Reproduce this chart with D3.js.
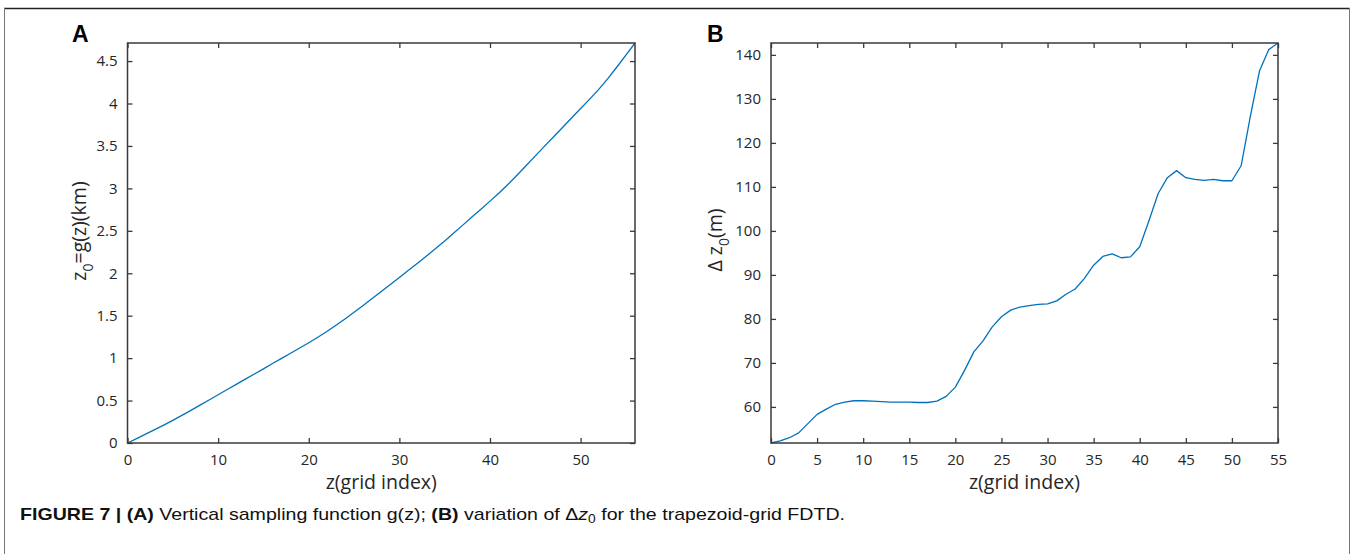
<!DOCTYPE html>
<html>
<head>
<meta charset="utf-8">
<script src="https://cdn.jsdelivr.net/npm/d3@7"></script>
<style>
  html, body { margin: 0; padding: 0; background: #fff; }
  svg { display: block; }
</style>
</head>
<body>
<svg id="fig" width="1355" height="554"></svg>
<script>
// Grid index for the height profile (0..56) and for the spacing profile (0..55)
const gridIndexA = d3.range(0, 57);
const gridIndexB = d3.range(0, 56);

// Panel A: vertical sampling function g(z), km
const heightKm = [
  0.000, 0.052, 0.104, 0.157, 0.211, 0.267, 0.326, 0.385, 0.446, 0.507,
  0.568, 0.630, 0.691, 0.752, 0.813, 0.874, 0.936, 0.997, 1.058, 1.119,
  1.181, 1.246, 1.314, 1.387, 1.462, 1.540, 1.620, 1.702, 1.785, 1.868,
  1.951, 2.035, 2.119, 2.204, 2.291, 2.380, 2.473, 2.567, 2.662, 2.755,
  2.850, 2.946, 3.048, 3.157, 3.269, 3.383, 3.495, 3.606, 3.718, 3.830,
  3.941, 4.052, 4.167, 4.293, 4.430, 4.571, 4.713
];

// Panel B: vertical grid spacing Δz0, m
const spacingM = [
  51.8, 52.3, 53.0, 54.1, 56.2, 58.3, 59.5, 60.6, 61.1, 61.4,
  61.4, 61.3, 61.2, 61.1, 61.1, 61.1, 61.0, 61.0, 61.3, 62.4,
  64.5, 68.3, 72.5, 75.0, 78.2, 80.5, 82.0, 82.7, 83.0, 83.3,
  83.4, 84.1, 85.6, 86.8, 89.2, 92.2, 94.2, 94.8, 93.9, 94.1,
  96.4, 102.3, 108.5, 112.1, 113.7, 112.1, 111.7, 111.5, 111.7, 111.4,
  111.4, 114.8, 126.0, 136.4, 141.2, 142.7
];

// Tick values
const ticksAX = [0, 10, 20, 30, 40, 50];
const ticksAY = [0, 0.5, 1, 1.5, 2, 2.5, 3, 3.5, 4, 4.5];
const ticksBX = [0, 5, 10, 15, 20, 25, 30, 35, 40, 45, 50, 55];
const ticksBY = [60, 70, 80, 90, 100, 110, 120, 130, 140];

const svg = d3.select("#fig");
const axisColor = "#3a3a3a";
const textColor = "#262626";
const lineColor = "#0072BD";
const labelFont = "'Open Sans', 'Noto Sans', sans-serif";
const plainFmt = d3.format("");

// Figure frame
svg.append("line").attr("x1", 4).attr("x2", 1349.5).attr("y1", 8.5).attr("y2", 8.5)
  .attr("stroke", "#222").attr("stroke-width", 1.6);
svg.append("line").attr("x1", 4.5).attr("x2", 4.5).attr("y1", 8).attr("y2", 554)
  .attr("stroke", "#777").attr("stroke-width", 1);
svg.append("line").attr("x1", 1349.5).attr("x2", 1349.5).attr("y1", 8).attr("y2", 554)
  .attr("stroke", "#777").attr("stroke-width", 1);

function drawPanel(opts) {
  const { left, right, top, bottom, xs, ys, xDomain, yDomain, xTicks, yTicks } = opts;
  const x = d3.scaleLinear().domain(xDomain).range([left, right]);
  const y = d3.scaleLinear().domain(yDomain).range([bottom, top]);
  const g = svg.append("g");

  // Line
  g.append("path")
    .datum(xs.map((v, i) => [v, ys[i]]))
    .attr("fill", "none")
    .attr("stroke", lineColor)
    .attr("stroke-width", 1.3)
    .attr("stroke-linejoin", "round")
    .attr("d", d3.line().x(d => x(d[0])).y(d => y(d[1])));

  const tl = 5;
  // Bottom axis with labels, ticks pointing inward
  const ax = g.append("g").attr("transform", `translate(0,${bottom})`)
    .call(d3.axisBottom(x).tickValues(xTicks).tickSizeInner(-tl).tickSizeOuter(0)
      .tickPadding(11).tickFormat(plainFmt));
  // Top axis, ticks only
  const axT = g.append("g").attr("transform", `translate(0,${top})`)
    .call(d3.axisTop(x).tickValues(xTicks).tickSizeInner(-tl).tickSizeOuter(0).tickFormat(""));
  // Left axis with labels
  const ay = g.append("g").attr("transform", `translate(${left},0)`)
    .call(d3.axisLeft(y).tickValues(yTicks).tickSizeInner(-tl).tickSizeOuter(0)
      .tickPadding(10).tickFormat(plainFmt));
  // Right axis, ticks only
  const ayR = g.append("g").attr("transform", `translate(${right},0)`)
    .call(d3.axisRight(y).tickValues(yTicks).tickSizeInner(-tl).tickSizeOuter(0).tickFormat(""));

  [ax, axT, ay, ayR].forEach(a => {
    a.selectAll(".domain").remove();
    a.selectAll(".tick line").attr("stroke", axisColor).attr("stroke-width", 1.3);
    a.selectAll(".tick text")
      .attr("font-family", labelFont)
      .attr("font-size", "15px")
      .attr("fill", textColor);
  });

  // Box
  g.append("rect").attr("x", left).attr("y", top)
    .attr("width", right - left).attr("height", bottom - top)
    .attr("fill", "none").attr("stroke", axisColor).attr("stroke-width", 1.5);

  return { x, y, g };
}

// Panel A
drawPanel({
  left: 127.5, right: 635, top: 43, bottom: 443,
  xs: gridIndexA, ys: heightKm,
  xDomain: [0, 56], yDomain: [0, d3.max(heightKm)],
  xTicks: ticksAX, yTicks: ticksAY
});

// Panel B
drawPanel({
  left: 771, right: 1278, top: 43, bottom: 443,
  xs: gridIndexB, ys: spacingM,
  xDomain: [0, 55], yDomain: d3.extent(spacingM),
  xTicks: ticksBX, yTicks: ticksBY
});

// Panel letters
const panelFont = "'Liberation Sans', Arial, sans-serif";
svg.append("text").attr("x", 72).attr("y", 42).attr("font-family", panelFont)
  .attr("font-weight", "bold").attr("font-size", "23px").text("A");
svg.append("text").attr("x", 707).attr("y", 42).attr("font-family", panelFont)
  .attr("font-weight", "bold").attr("font-size", "23px").text("B");

function label(sel) {
  return sel.attr("font-family", labelFont).attr("font-size", "19.5px").attr("fill", textColor);
}

// X-axis titles
label(svg.append("text")).attr("x", (127.5 + 635) / 2).attr("y", 489)
  .attr("text-anchor", "middle").text("z(grid index)");
label(svg.append("text")).attr("x", (771 + 1278) / 2).attr("y", 489)
  .attr("text-anchor", "middle").text("z(grid index)");

// Y-axis title, panel A
const tA = label(svg.append("text"))
  .attr("transform", "translate(86,231) rotate(-90)").attr("text-anchor", "middle");
tA.append("tspan").text("z");
tA.append("tspan").attr("dy", 7).attr("font-size", "14px").text("0");
tA.append("tspan").attr("dy", -7).text("=g(z)(km)");

// Y-axis title, panel B
const tB = label(svg.append("text"))
  .attr("transform", "translate(722,240) rotate(-90)").attr("text-anchor", "middle");
tB.append("tspan").text("\u0394 z");
tB.append("tspan").attr("dy", 7).attr("font-size", "14px").text("0");
tB.append("tspan").attr("dy", -7).text("(m)");

// Caption
const cap = svg.append("text")
  .attr("font-family", "'Liberation Sans Narrow', 'Arial Narrow', 'Liberation Sans', sans-serif")
  .attr("font-size", "17px").attr("fill", "#111")
  .attr("x", 20).attr("y", 520)
  .attr("textLength", 825).attr("lengthAdjust", "spacingAndGlyphs");
cap.append("tspan").attr("font-weight", "bold").text("FIGURE 7 | (A)");
cap.append("tspan").text(" Vertical sampling function g(z); ");
cap.append("tspan").attr("font-weight", "bold").text("(B)");
cap.append("tspan").text(" variation of \u0394");
cap.append("tspan").attr("font-style", "italic").text("z");
cap.append("tspan").attr("dy", 3).attr("font-size", "12px").text("0");
cap.append("tspan").attr("dy", -3).text(" for the trapezoid-grid FDTD.");
</script>
</body>
</html>
